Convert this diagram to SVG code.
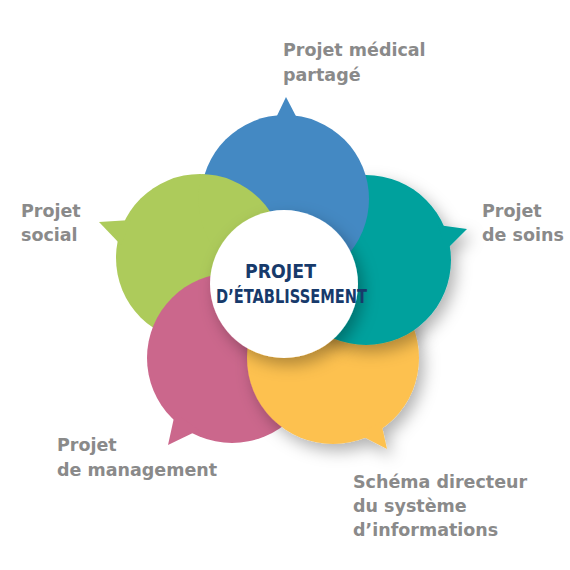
<svg xmlns="http://www.w3.org/2000/svg" width="570" height="570" viewBox="0 0 570 570">
<style>
.lbl{font-family:"DejaVu Sans","Lato",sans-serif;font-weight:700;font-size:17.5px;fill:#8a8a8a}
.ctr{font-family:"DejaVu Sans","Liberation Sans",sans-serif;font-weight:700;font-size:19px;fill:#173a6b}
</style>
<defs>
<filter id="sh" x="-30%" y="-30%" width="160%" height="160%">
<feDropShadow dx="5" dy="7" stdDeviation="8" flood-color="#000" flood-opacity="0.3"/>
</filter>
<clipPath id="blueClip"><circle cx="285" cy="199" r="86.5"/></clipPath>
</defs>
<rect width="570" height="570" fill="#fff"/>
<g id="bubble-social" fill="#adcb5b">
<circle cx="200" cy="258" r="84"/>
<polygon points="131,220 99,222 121,245"/>
</g>
<g id="bubble-management" fill="#cb678c">
<circle cx="232" cy="358" r="85"/>
<polygon points="175,413 168,445 199,430"/>
</g>
<g id="bubble-si" fill="#fdc150" filter="url(#sh)">
<circle cx="333" cy="358" r="86"/>
<polygon points="358,434 387,449 381,422"/>
</g>
<g id="bubble-soins" fill="#00a19d" filter="url(#sh)">
<circle cx="366" cy="260" r="85"/>
<polygon points="438,225 467,229 446,250"/>
</g>
<g id="bubble-medical" fill="#4489c3">
<circle cx="285" cy="199" r="84"/>
<polygon points="274,122 286,97 299,122"/>
</g>
<g id="bubble-social-overlap" fill="#adcb5b" clip-path="url(#blueClip)">
<circle cx="200" cy="258" r="84"/>
</g>
<g id="center">
<circle cx="284" cy="284" r="74" fill="#fff" filter="url(#sh)"/>
<text class="ctr" x="245" y="278" textLength="71" lengthAdjust="spacingAndGlyphs">PROJET</text>
<text class="ctr" x="216" y="303" textLength="151" lengthAdjust="spacingAndGlyphs">D’ÉTABLISSEMENT</text>
</g>
<g id="labels">
<text class="lbl" x="283" y="56">Projet médical</text>
<text class="lbl" x="283" y="81">partagé</text>
<text class="lbl" x="21" y="217">Projet</text>
<text class="lbl" x="21" y="241">social</text>
<text class="lbl" x="482" y="217">Projet</text>
<text class="lbl" x="482" y="241">de soins</text>
<text class="lbl" x="57" y="451">Projet</text>
<text class="lbl" x="57" y="476">de management</text>
<text class="lbl" x="353" y="488">Schéma directeur</text>
<text class="lbl" x="353" y="512">du système</text>
<text class="lbl" x="353" y="536">d’informations</text>
</g>
</svg>
